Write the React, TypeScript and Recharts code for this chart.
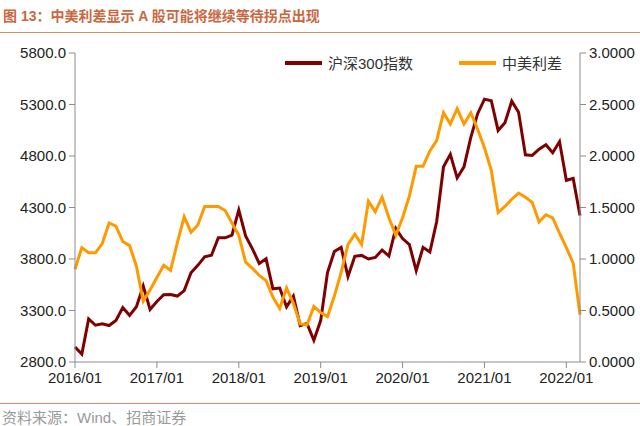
import { Legend, Line, LineChart, XAxis, YAxis } from 'recharts'

const months = [
  '2016/01', '2016/02', '2016/03', '2016/04', '2016/05', '2016/06', '2016/07', '2016/08', '2016/09', '2016/10', '2016/11', '2016/12',
  '2017/01', '2017/02', '2017/03', '2017/04', '2017/05', '2017/06', '2017/07', '2017/08', '2017/09', '2017/10', '2017/11', '2017/12',
  '2018/01', '2018/02', '2018/03', '2018/04', '2018/05', '2018/06', '2018/07', '2018/08', '2018/09', '2018/10', '2018/11', '2018/12',
  '2019/01', '2019/02', '2019/03', '2019/04', '2019/05', '2019/06', '2019/07', '2019/08', '2019/09', '2019/10', '2019/11', '2019/12',
  '2020/01', '2020/02', '2020/03', '2020/04', '2020/05', '2020/06', '2020/07', '2020/08', '2020/09', '2020/10', '2020/11', '2020/12',
  '2021/01', '2021/02', '2021/03', '2021/04', '2021/05', '2021/06', '2021/07', '2021/08', '2021/09', '2021/10', '2021/11', '2021/12',
  '2022/01', '2022/02', '2022/03',
]

// 沪深300指数 月末收盘
const csi300 = [
  2946, 2877, 3218, 3157, 3170, 3154, 3204, 3328, 3253, 3336, 3538, 3310,
  3388, 3453, 3456, 3440, 3493, 3667, 3738, 3822, 3837, 4007, 4006, 4031,
  4276, 4024, 3899, 3757, 3802, 3511, 3518, 3335, 3439, 3154, 3173, 3011,
  3202, 3669, 3872, 3913, 3630, 3826, 3835, 3800, 3815, 3887, 3829, 4097,
  3999, 3940, 3686, 3913, 3867, 4164, 4695, 4816, 4587, 4695, 4981, 5211,
  5352, 5337, 5048, 5123, 5332, 5224, 4811, 4806, 4866, 4909, 4832, 4940,
  4564, 4582, 4223,
]

// 中美利差 (%)
const spread = [
  0.90, 1.11, 1.06, 1.06, 1.15, 1.35, 1.32, 1.17, 1.13, 0.93, 0.59, 0.70,
  0.82, 0.94, 0.89, 1.16, 1.41, 1.26, 1.33, 1.51, 1.51, 1.51, 1.47, 1.35,
  1.23, 0.97, 0.91, 0.84, 0.79, 0.63, 0.52, 0.72, 0.57, 0.37, 0.36, 0.54,
  0.48, 0.44, 0.64, 0.87, 1.14, 1.24, 1.14, 1.56, 1.46, 1.60, 1.40, 1.23,
  1.40, 1.61, 1.90, 1.90, 2.05, 2.15, 2.42, 2.31, 2.46, 2.31, 2.42, 2.26,
  2.08, 1.86, 1.45, 1.51, 1.58, 1.64, 1.60, 1.55, 1.36, 1.43, 1.40, 1.25,
  1.11, 0.96, 0.46,
]

const seriesNames = ['沪深300指数', '中美利差']
const xTicks = ['2016/01', '2017/01', '2018/01', '2019/01', '2020/01', '2021/01', '2022/01']
const leftTicks = [2800, 3300, 3800, 4300, 4800, 5300, 5800]
const rightTicks = [0, 0.5, 1, 1.5, 2, 2.5, 3]

const data = months.map((month, i) => ({ month, csi300: csi300[i], spread: spread[i] }))

const RED = '#7f0000'
const ORANGE = '#ff9900'
const AXIS = '#8c8c8c'
const FONT = '"Liberation Sans", Arial, "Noto Sans CJK SC", sans-serif'
const tickStyle = { fontSize: 15, fill: '#222', fontFamily: FONT }

function renderLegend(props: any) {
  const items = [...(props.payload ?? [])].sort(
    (a: any, b: any) => seriesNames.indexOf(a.value) - seriesNames.indexOf(b.value),
  )
  return (
    <div style={{ display: 'flex', alignItems: 'center', fontFamily: FONT, fontSize: 15, color: '#333' }}>
      {items.map((item: any, i: number) => (
        <div key={item.value} style={{ display: 'flex', alignItems: 'center', marginRight: i === 0 ? 46 : 0 }}>
          <span style={{ display: 'inline-block', width: 37, height: 4, background: item.color, marginRight: 6 }} />
          <span>{item.value}</span>
        </div>
      ))}
    </div>
  )
}

export default function App() {
  return (
    <div style={{ position: 'absolute', left: 0, top: 0, width: 640, height: 426, background: '#fff', fontFamily: FONT }}>
      <div
        style={{
          position: 'absolute',
          left: 3,
          top: 5,
          fontSize: 14,
          fontWeight: 'bold',
          color: '#c9673f',
          whiteSpace: 'nowrap',
        }}
      >
        图 13：中美利差显示 A 股可能将继续等待拐点出现
      </div>
      <div style={{ position: 'absolute', left: 0, top: 32, width: 640, borderTop: '1.5px solid #d98a6a' }} />
      <div style={{ position: 'absolute', left: 0, top: 0 }}>
        <LineChart width={640} height={426} data={data} margin={{ top: 53, right: 0, bottom: 34, left: 0 }}>
          <XAxis
            dataKey="month"
            ticks={xTicks}
            interval={0}
            height={30}
            tick={tickStyle}
            tickSize={6}
            tickMargin={4}
            stroke={AXIS}
          />
          <YAxis
            yAxisId="left"
            domain={[2800, 5800]}
            ticks={leftTicks}
            width={75}
            tick={tickStyle}
            tickSize={6}
            tickMargin={3}
            stroke={AXIS}
            tickFormatter={(v: number) => v.toFixed(1)}
            allowDataOverflow
          />
          <YAxis
            yAxisId="right"
            orientation="right"
            domain={[0, 3]}
            ticks={rightTicks}
            width={60}
            tick={tickStyle}
            tickSize={6}
            tickMargin={3}
            stroke={AXIS}
            tickFormatter={(v: number) => v.toFixed(4)}
            allowDataOverflow
          />
          <Legend
            layout="horizontal"
            verticalAlign="middle"
            align="center"
            content={renderLegend}
            wrapperStyle={{ top: 52, left: 285, width: 300 }}
          />
          <Line
            yAxisId="left"
            type="linear"
            dataKey="csi300"
            name="沪深300指数"
            stroke={RED}
            strokeWidth={3}
            dot={false}
            isAnimationActive={false}
          />
          <Line
            yAxisId="right"
            type="linear"
            dataKey="spread"
            name="中美利差"
            stroke={ORANGE}
            strokeWidth={3}
            dot={false}
            isAnimationActive={false}
          />
        </LineChart>
      </div>
      <div style={{ position: 'absolute', left: 0, top: 403, width: 640, borderTop: '1px solid #d98a6a' }} />
      <div style={{ position: 'absolute', left: 2, top: 406, fontSize: 15, color: '#999', whiteSpace: 'nowrap' }}>
        资料来源：Wind、招商证券
      </div>
    </div>
  )
}
